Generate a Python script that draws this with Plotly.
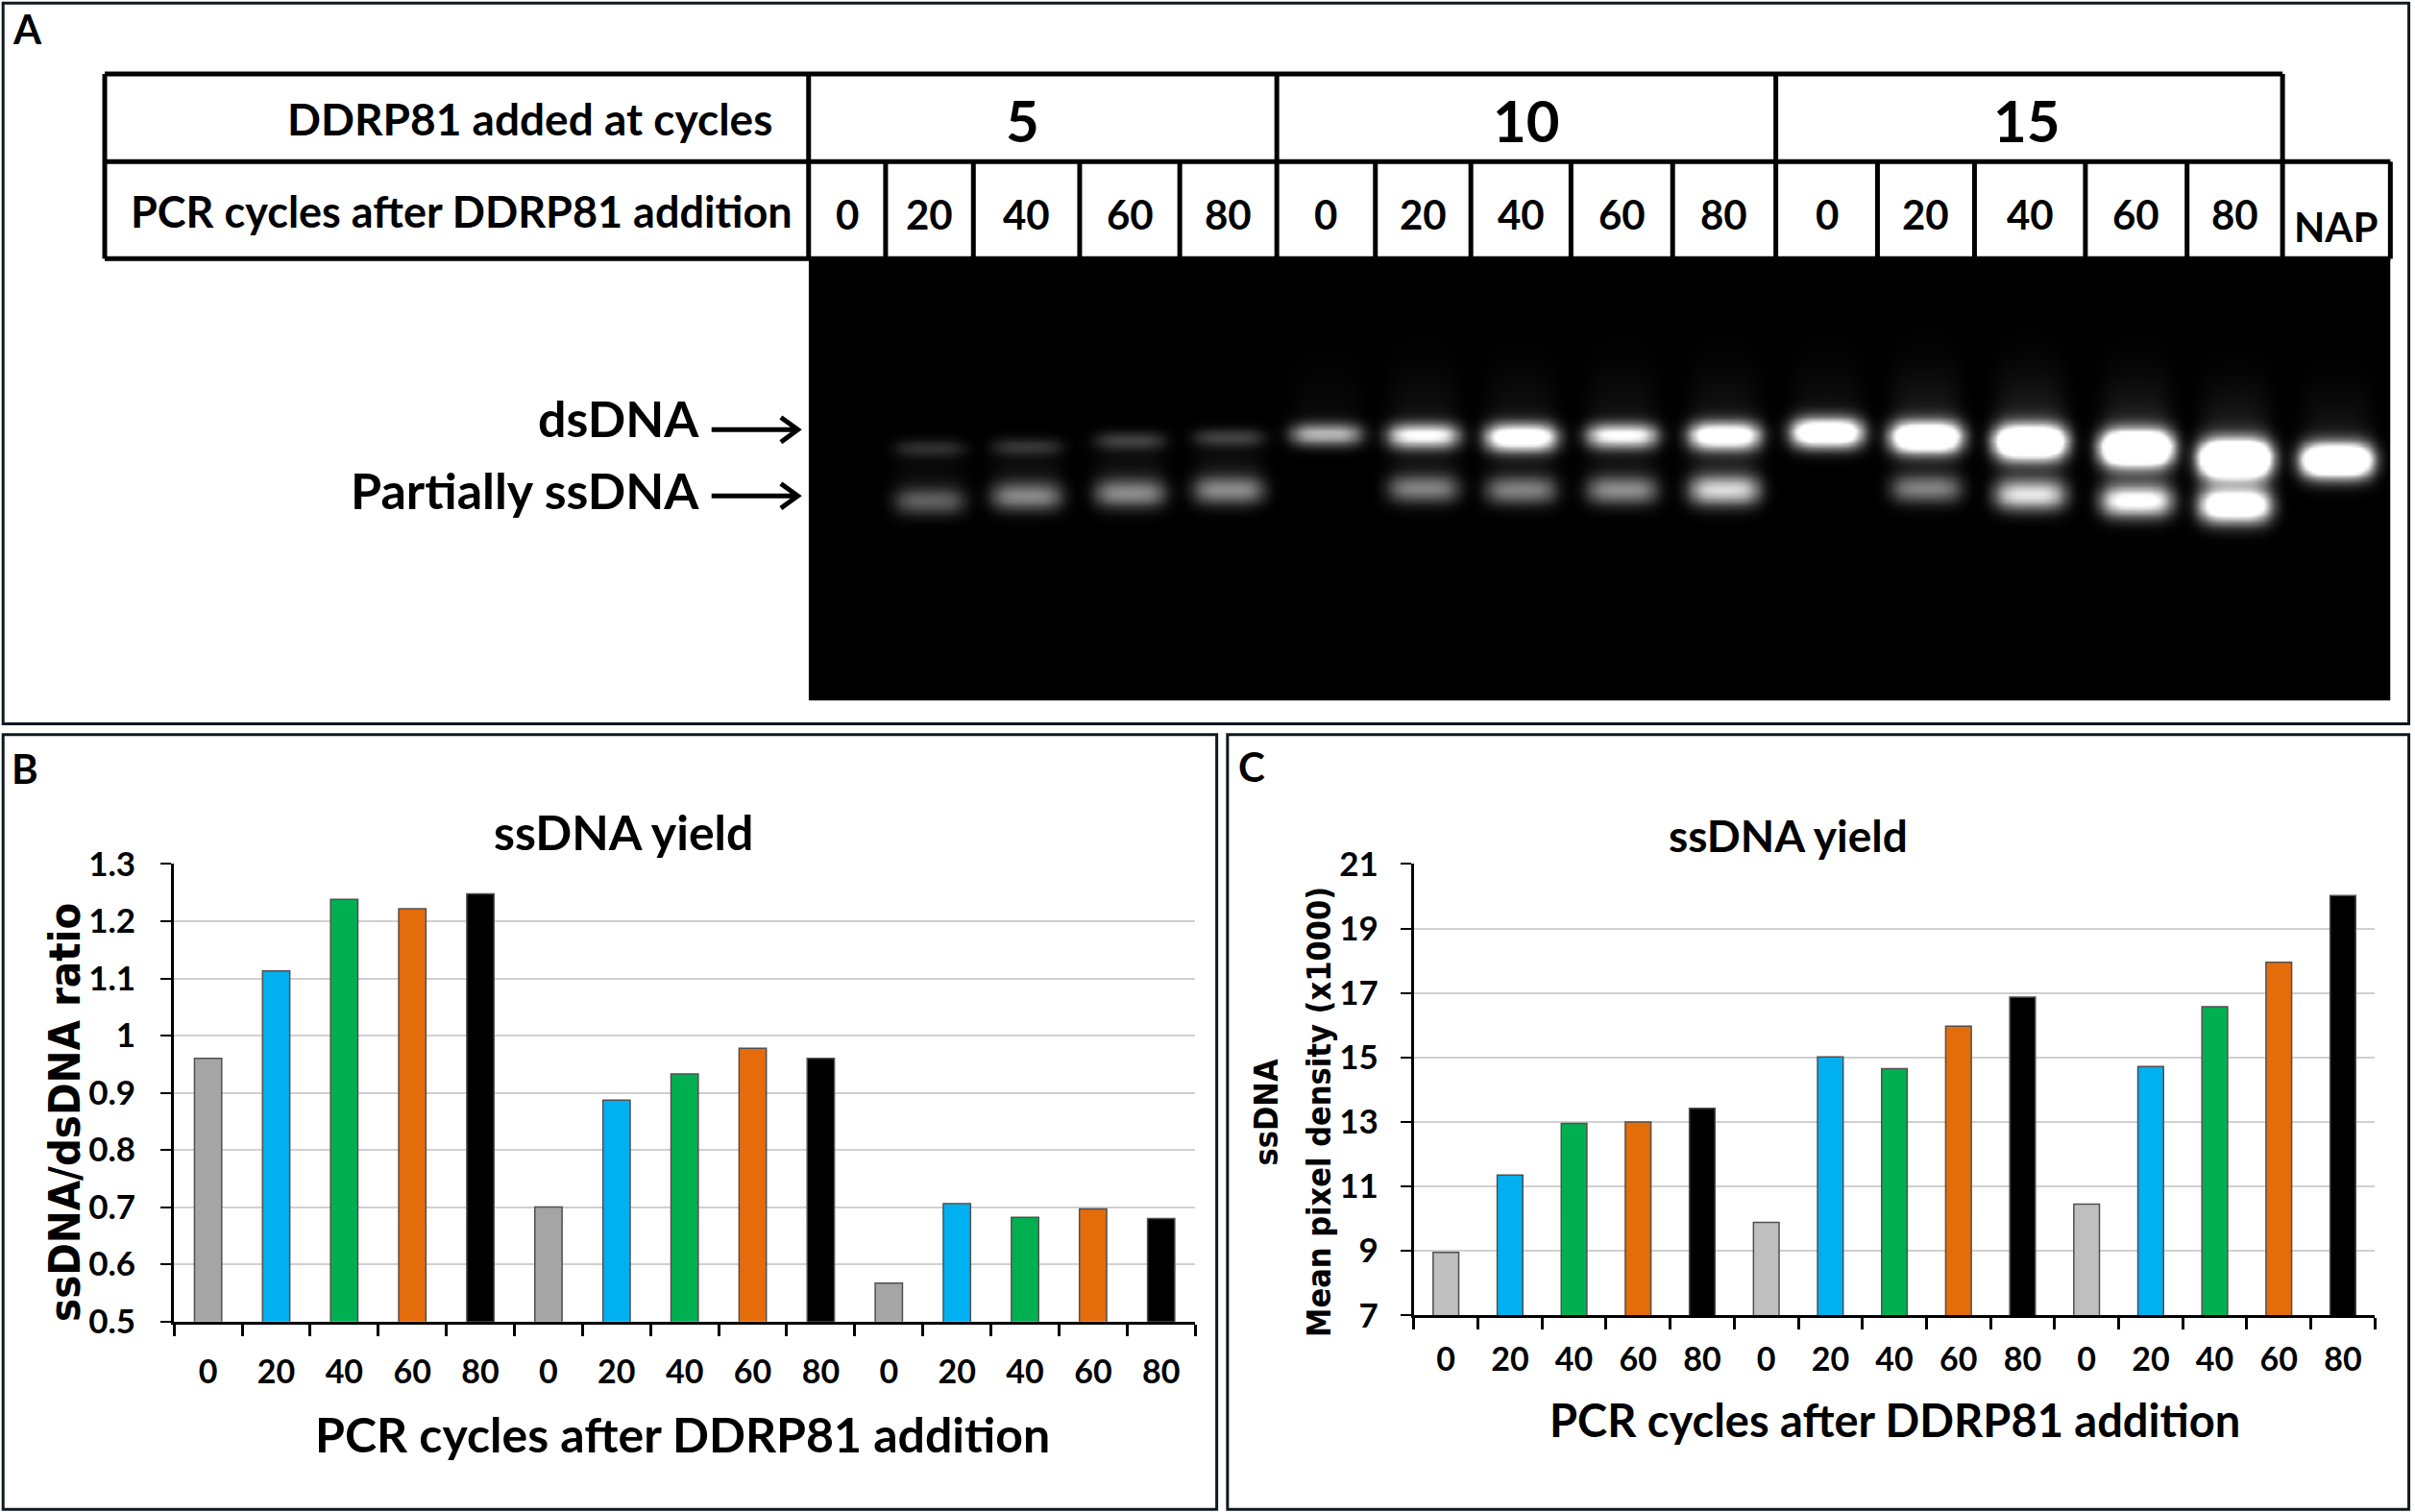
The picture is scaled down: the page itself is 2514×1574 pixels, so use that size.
import numpy as np
import plotly.graph_objects as go

# ---------------- data ----------------
added_at = ["5", "10", "15"]
after_cycles = ["0", "20", "40", "60", "80"]
lane_labels = after_cycles * 3 + ["NAP"]
bar_labels = after_cycles * 3

# panel B: ssDNA/dsDNA ratio
ratio = [0.96, 1.113, 1.238, 1.222, 1.248,
         0.70, 0.887, 0.933, 0.978, 0.96,
         0.567, 0.706, 0.682, 0.697, 0.68]
# panel C: mean pixel density of ssDNA (x1000)
density = [8.95, 11.35, 12.95, 13.0, 13.42,
           9.88, 15.02, 14.65, 15.97, 16.87,
           10.45, 14.72, 16.57, 17.95, 20.02]

ratio_ticks = [0.5, 0.6, 0.7, 0.8, 0.9, 1.0, 1.1, 1.2, 1.3]
ratio_tick_text = ["0.5", "0.6", "0.7", "0.8", "0.9", "1", "1.1", "1.2", "1.3"]
density_ticks = [7, 9, 11, 13, 15, 17, 19, 21]

colors_b = ["#A5A5A5", "#00B0F0", "#00B050", "#E46C0A", "#000000"] * 3
colors_c = ["#BFBFBF", "#00B0F0", "#00B050", "#E46C0A", "#000000"] * 3

# gel: relative band brightness (>1 = saturated) and band rows per lane
ds_band = [0, 0.18, 0.2, 0.25, 0.25, 0.7, 1.0, 1.3, 1.0, 1.3, 1.5, 1.7, 2.0, 2.2, 2.4, 2.0]
ss_band = [0, 0.37, 0.52, 0.54, 0.54, 0, 0.5, 0.5, 0.55, 0.85, 0, 0.5, 0.9, 1.1, 1.5, 0]
ds_row = [282, 291, 290, 286, 284, 282, 283, 284, 283, 283, 281, 284, 287, 291, 298, 299]
ss_row = [325, 325, 322, 320, 318, 317, 317, 318, 318, 318, 317, 317, 321, 325, 328, 330]
haze = [0, 0, 0, 0, 0, 0.04, 0.07, 0.07, 0.07, 0.08, 0.07, 0.12, 0.15, 0.15, 0.15, 0.1]

# ---------------- layout helpers (reference drawn at 1568 x 981.7) ----------------
W, H = 1568.0, 981.7
FIG_W, FIG_H = 2514, 1574


def px(x):
    return x / W


def py(y):
    return 1 - y / H


CAL = "Lato"
NARROW = "DejaVu Sans Condensed"
BORDER = "#101820"

# table column edges (second row) and group edges (first row)
col_edges = [525, 575, 632, 701, 766, 829, 893, 955, 1020, 1086, 1153,
             1219, 1282, 1354, 1420, 1482, 1552]
group_edges = [525, 829, 1153, 1482]
group_label_x = [664, 991, 1316]
lane_centers = [(col_edges[i] + col_edges[i + 1]) / 2 for i in range(len(col_edges) - 1)]

shapes = []
annotations = []


def seg(x0, y0, x1, y1, w=5, color="black"):
    shapes.append(dict(type="line", xref="paper", yref="paper",
                       x0=px(x0), y0=py(y0), x1=px(x1), y1=py(y1),
                       line=dict(color=color, width=w)))


def box(x0, y0, x1, y1, w=3, color=BORDER):
    shapes.append(dict(type="rect", xref="paper", yref="paper",
                       x0=px(x0), y0=py(y0), x1=px(x1), y1=py(y1),
                       line=dict(color=color, width=w), fillcolor="rgba(0,0,0,0)"))


def text(x, y, s, size, xanchor="center", family=CAL, angle=0, color="black"):
    annotations.append(dict(x=px(x), y=py(y), xref="paper", yref="paper", text=s,
                            showarrow=False, xanchor=xanchor, yanchor="middle",
                            textangle=angle,
                            font=dict(family=family, size=size, color=color, weight="bold")))


# panel borders
box(2, 2, 1564, 470)
box(2, 477, 790, 980)
box(797, 477, 1564, 980)
text(18, 19, "A", 42)
text(16, 499, "B", 42)
text(813, 498, "C", 42)

# ---------------- gel image (heatmap) ----------------
gx = np.arange(525, 1553, 2.0)
gy = np.arange(168, 456, 1.5)
GX, GY = np.meshgrid(gx, gy)
raw = np.zeros_like(GX)
for i, c in enumerate(lane_centers):
    fx = np.exp(-np.abs((GX - c) / 23.0) ** 4)
    if ds_band[i] > 0:
        h = 5.5 + 2.5 * min(ds_band[i], 2.4)
        raw += ds_band[i] * fx * np.exp(-((GY - ds_row[i]) / h) ** 2)
    if ss_band[i] > 0:
        h = 8.5 + 1.5 * min(ss_band[i], 1.5)
        raw += ss_band[i] * fx * np.exp(-((GY - ss_row[i]) / h) ** 2)
        mid = (ds_row[i] + ss_row[i]) / 2
        raw += 0.1 * min(ss_band[i], 1.0) * fx * np.exp(-((GY - mid) / 12.0) ** 2)
    if haze[i] > 0:
        above = np.where(GY < ds_row[i], np.exp(-((GY - ds_row[i]) / 40.0) ** 2), 0)
        raw += haze[i] * fx * above
gel = np.clip(raw, 0, 1)

gel_trace = go.Heatmap(x=gx, y=gy, z=gel, zmin=0, zmax=1, zsmooth="best",
                       colorscale=[[0, "black"], [1, "white"]], showscale=False,
                       hoverinfo="skip", xaxis="x3", yaxis="y3")

# ---------------- table over the gel ----------------
T_LEFT, T_TOP, T_MID, T_BOT = 68, 48, 105, 168
seg(T_LEFT, T_TOP, group_edges[-1], T_TOP)
seg(T_LEFT, T_MID, col_edges[-1], T_MID)
seg(T_LEFT, T_BOT, col_edges[-1], T_BOT)
seg(T_LEFT, T_TOP, T_LEFT, T_BOT)
for gxe in group_edges:
    seg(gxe, T_TOP, gxe, T_MID)
for cx in col_edges:
    seg(cx, T_MID, cx, T_BOT)

text(503, 77, "DDRP81 added at cycles", 46, xanchor="right")
text(300, 137, "PCR cycles after DDRP81 addition", 45)
for lab, gxl in zip(added_at, group_label_x):
    text(gxl, 78, lab, 60)
for i, lab in enumerate(lane_labels):
    if lab == "NAP":
        text(lane_centers[i], 147, lab, 42)
    else:
        text(lane_centers[i], 139, lab, 42)

# band labels and arrows
text(455, 271, "dsDNA", 52, xanchor="right")
text(455, 318, "Partially ssDNA", 52, xanchor="right")
for ya in (279, 322):
    x0, x1 = 462, 518
    shapes.append(dict(type="path", xref="paper", yref="paper",
                       path="M {a},{b} L {c},{b} M {d},{e} L {c},{b} L {d},{f}".format(
                           a=px(x0), b=py(ya), c=px(x1), d=px(x1 - 11), e=py(ya - 8), f=py(ya + 8)),
                       line=dict(color="black", width=5)))

# ---------------- bar charts ----------------
xs = list(range(len(bar_labels)))
bar_b = go.Bar(x=xs, y=ratio, marker=dict(color=colors_b, line=dict(color="#505050", width=1.5)),
               width=0.4, xaxis="x", yaxis="y", hoverinfo="y")
bar_c = go.Bar(x=xs, y=density, marker=dict(color=colors_c, line=dict(color="#505050", width=1.5)),
               width=0.4, xaxis="x2", yaxis="y2", hoverinfo="y")

fig = go.Figure(data=[gel_trace, bar_b, bar_c])

xaxis_common = dict(range=[-0.5, len(xs) - 0.5], tickmode="array", tickvals=xs, ticktext=bar_labels,
                    ticks="", showline=True, linecolor="black", linewidth=3, showgrid=False,
                    zeroline=False, fixedrange=True, automargin=False,
                    tickfont=dict(family=CAL, size=34, color="black", weight="bold"),
                    minor=dict(tickmode="array", tickvals=[v - 0.5 for v in xs] + [len(xs) - 0.5],
                               ticks="outside", ticklen=12, tickwidth=3, tickcolor="black",
                               showgrid=False))
yaxis_common = dict(showline=True, linecolor="black", linewidth=3, ticks="outside", ticklen=11,
                    tickwidth=2, tickcolor="black", showgrid=True, gridcolor="#D0D0D0",
                    gridwidth=2, zeroline=False, fixedrange=True, automargin=False,
                    tickfont=dict(family=CAL, size=35, color="black", weight="bold"))

fig.update_layout(
    width=FIG_W, height=FIG_H,
    margin=dict(l=0, r=0, t=0, b=0, pad=0, autoexpand=False),
    paper_bgcolor="white", plot_bgcolor="white",
    showlegend=False, bargap=0.6,
    font=dict(family=CAL, color="black", weight="bold"),
    xaxis=dict(domain=[px(113), px(776)], anchor="y", ticklabelstandoff=21, **xaxis_common),
    yaxis=dict(domain=[py(858), py(561)], anchor="x", range=[0.5, 1.3], tickmode="array",
               tickvals=ratio_ticks, ticktext=ratio_tick_text, ticklabelstandoff=19, **yaxis_common),
    xaxis2=dict(domain=[px(918), px(1542)], anchor="y2", ticklabelstandoff=14, **xaxis_common),
    yaxis2=dict(domain=[py(854), py(561)], anchor="x2", range=[7, 21], tickmode="array",
                tickvals=density_ticks, ticklabelstandoff=16, **yaxis_common),
    xaxis3=dict(domain=[px(525), px(1552)], anchor="y3", range=[525, 1552], visible=False,
                fixedrange=True, automargin=False),
    yaxis3=dict(domain=[py(455), py(168)], anchor="x3", range=[455, 168], visible=False,
                fixedrange=True, automargin=False),
    shapes=shapes,
)

# titles
text(405, 540, "ssDNA yield", 50)
text(1161, 542, "ssDNA yield", 46)
text(443, 931, "PCR cycles after DDRP81 addition", 50)
text(1230, 922, "PCR cycles after DDRP81 addition", 47)
text(42, 722, "ssDNA/dsDNA ratio", 45, family=NARROW, angle=-90)
text(822, 722, "ssDNA", 34, family=NARROW, angle=-90)
text(856, 722, "Mean pixel density (x1000)", 34, family=NARROW, angle=-90)

fig.update_layout(annotations=annotations)
fig.write_html(
    "out.html",
    config={"displayModeBar": False},
    post_script="document.body.style.margin='0';"
                "var d=document.getElementById('{plot_id}');"
                "d.style.position='fixed';d.style.left='0px';d.style.top='0px';",
)
